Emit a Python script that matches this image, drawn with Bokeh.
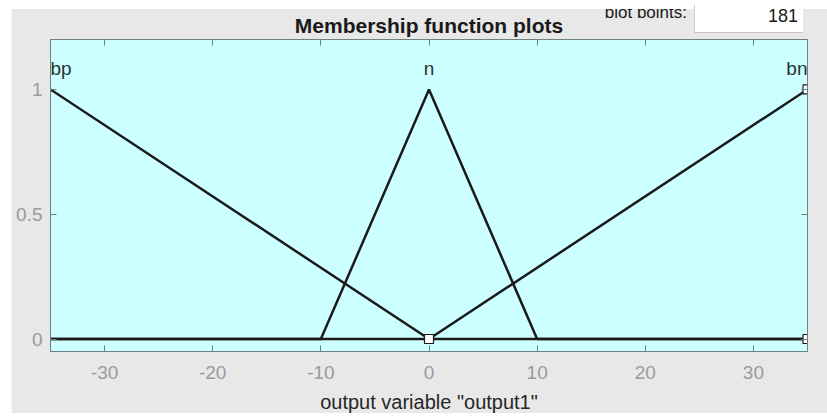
from bokeh.plotting import figure
from bokeh.models import Range1d, LinearAxis, FixedTicker, Div
from bokeh.core.properties import value
from bokeh.embed import file_html
from bokeh.resources import INLINE

# Membership functions of output1 on the universe [-35, 35]
mf_names = ["bp", "n", "bn"]
bp_x = [-35, 0, 35]
bp_y = [1, 0, 0]
n_x = [-35, -10, 0, 10, 35]
n_y = [0, 0, 1, 0, 0]
bn_x = [-35, 0, 35]
bn_y = [0, 0, 1]
mf_peak_x = [-35, 0, 35]
mf_peak_y = [1, 1, 1]
marker_x = [0, 35, 35]
marker_y = [0, 0, 1]
x_ticks = [-30, -20, -10, 0, 10, 20, 30]
y_ticks = [0, 0.5, 1]
plot_points = 181

X_MIN, X_MAX = -35, 35
Y_MIN, Y_MAX = -0.05, 1.2

FONT = "Liberation Sans"
BG = "#e8e8e8"
AXIS_C = "#6f8080"
TICK_LABEL_C = "#9a9a9a"
LINE_C = "#1a1a1a"

p = figure(
    width=816, height=411,
    x_range=Range1d(X_MIN, X_MAX), y_range=Range1d(Y_MIN, Y_MAX),
    output_backend="svg", toolbar_location=None,
    min_border_left=39, min_border_right=20,
    min_border_top=34, min_border_bottom=65,
    background_fill_color="#ccffff", border_fill_color=BG,
    x_axis_label='output variable "output1"',
    title="Membership function plots",
)
p.margin = (5, 0, 0, 11)
p.grid.visible = False
p.outline_line_color = AXIS_C

p.title.align = "center"
p.title.text_font = FONT
p.title.text_font_size = "21px"
p.title.text_font_style = "bold"
p.title.text_color = "#1a1a1a"
p.title.standoff = 6

for ax in (p.xaxis[0], p.yaxis[0]):
    ax.major_tick_in = 6
    ax.major_tick_out = 0
    ax.minor_tick_line_color = None
    ax.axis_line_color = AXIS_C
    ax.major_tick_line_color = AXIS_C
    ax.major_label_text_color = TICK_LABEL_C
    ax.major_label_text_font = FONT
    ax.major_label_text_font_size = "19px"

p.xaxis[0].ticker = FixedTicker(ticks=x_ticks)
p.yaxis[0].ticker = FixedTicker(ticks=y_ticks)
p.xaxis[0].major_label_overrides = {t: str(t) for t in x_ticks}
p.yaxis[0].major_label_overrides = {0: "0", 0.5: "0.5", 1: "1"}
p.xaxis[0].major_label_standoff = 14
p.yaxis[0].major_label_standoff = 8
p.xaxis[0].axis_label_text_font = FONT
p.xaxis[0].axis_label_text_font_size = "20px"
p.xaxis[0].axis_label_text_font_style = "normal"
p.xaxis[0].axis_label_text_color = "#262626"
p.xaxis[0].axis_label_standoff = 9

# mirrored tick marks on the top and right edges
top = LinearAxis(ticker=FixedTicker(ticks=x_ticks))
right = LinearAxis(ticker=FixedTicker(ticks=y_ticks))
for ax in (top, right):
    ax.major_tick_in = 6
    ax.major_tick_out = 0
    ax.minor_tick_line_color = None
    ax.axis_line_color = AXIS_C
    ax.major_tick_line_color = AXIS_C
    ax.major_label_text_color = None
    ax.major_label_text_font_size = "1px"
    ax.major_label_standoff = 0
p.add_layout(top, "above")
p.add_layout(right, "right")

# membership function curves
for xs, ys in ((bp_x, bp_y), (n_x, n_y), (bn_x, bn_y)):
    p.line(xs, ys, line_color=LINE_C, line_width=2.5)

p.scatter(marker_x, marker_y, marker="square", size=9,
          fill_color="white", line_color=LINE_C, line_width=1.2)

# function names above each peak
for name, x, y, align in zip(mf_names, mf_peak_x, mf_peak_y, ["left", "center", "right"]):
    p.text([x], [y], text=[name], text_align=align, text_baseline="alphabetic",
           y_offset=-21, text_font=value(FONT), text_font_size="19px",
           text_color="#263333")

# "plot points" edit field floating over the top border of the figure,
# plus the white page strips above and below the figure panel
field_html = f"""
<div style="position:absolute;left:0;top:0;width:816px;height:4px;background:#ffffff;"></div>
<div style="position:absolute;left:0;top:408px;width:816px;height:3px;background:#ffffff;"></div>
<div style="position:absolute;left:550px;top:4px;width:126px;height:9px;overflow:hidden;">
  <div style="position:absolute;right:0;top:-6px;font:17px '{FONT}';color:#1a1a1a;white-space:nowrap;">plot points:</div>
</div>
<div style="position:absolute;left:683px;top:0;width:109px;height:28px;background:#ffffff;
            border-bottom:1px solid #c4c4c4;border-left:1px solid #d0d0d0;box-sizing:border-box;
            overflow:hidden;">
  <div style="position:absolute;right:5px;top:1px;font:18px '{FONT}';color:#1a1a1a;">{plot_points}</div>
</div>
"""
field = Div(text=field_html,
            styles={"position": "absolute", "left": "0px", "top": "0px",
                    "width": "816px", "height": "30px", "pointer-events": "none",
                    "overflow": "visible", "z-index": "10"})
p.elements = [field]

open("out.html", "w").write(file_html(p, INLINE))
